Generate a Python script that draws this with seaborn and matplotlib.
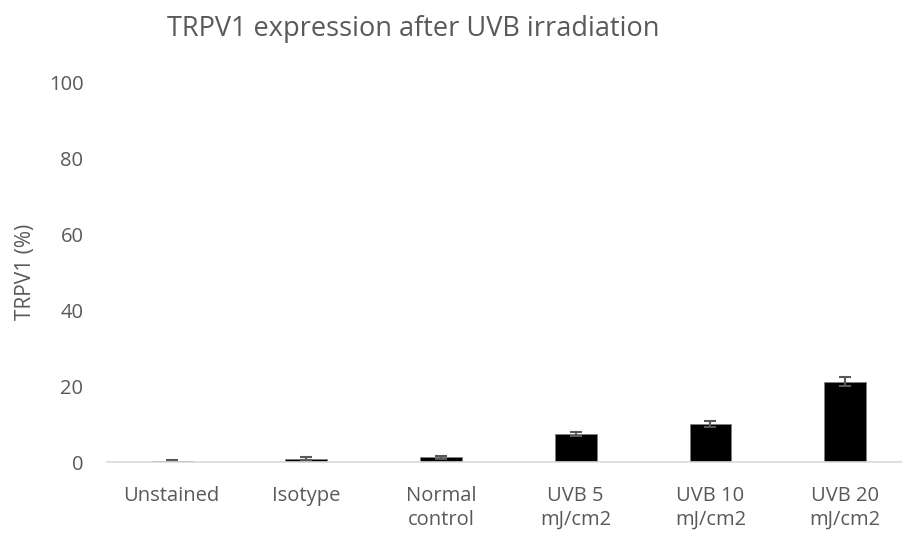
import matplotlib
matplotlib.use("Agg")
import matplotlib.pyplot as plt
import seaborn as sns
import pandas as pd

categories = ["Unstained", "Isotype", "Normal\ncontrol", "UVB 5\nmJ/cm2", "UVB 10\nmJ/cm2", "UVB 20\nmJ/cm2"]
values = [0.3, 0.9, 1.2, 7.3, 10.0, 21.1]
errors = [0.1, 0.3, 0.5, 0.5, 0.7, 1.2]

sns.set_style("white")
plt.rcParams['font.family'] = ['Open Sans', 'DejaVu Sans']
text_col = "#595959"

df = pd.DataFrame({"cat": categories, "val": values})

fig = plt.figure(figsize=(9.03, 5.34), dpi=100)
ax = fig.add_axes([107 / 903, (534 - 462) / 534, 1 - 107 / 903, (462 - 82) / 534])

sns.barplot(data=df, x="cat", y="val", color="black", width=0.31,
            errorbar=None, saturation=1, edgecolor="#7f7f7f", linewidth=0.6, ax=ax)
ax.errorbar(range(len(values)), values, yerr=errors, fmt="none",
            ecolor=text_col, elinewidth=1.5, capsize=4, capthick=1.5)

ax.set_ylim(0, 100)
ax.set_xlim(-0.48, 5.43)
ax.set_yticks([0, 20, 40, 60, 80, 100])
ax.set_xlabel("")
ax.set_ylabel("TRPV1 (%)", fontsize=15, color=text_col, labelpad=9)
ax.tick_params(axis="y", length=0, pad=17, labelsize=14.5, labelcolor=text_col)
ax.tick_params(axis="x", length=0, pad=17, labelsize=14.5, labelcolor=text_col)
for lab in ax.get_xticklabels():
    lab.set_linespacing(1.3)
for s in ["top", "right", "left"]:
    ax.spines[s].set_visible(False)
ax.spines["bottom"].set_color("#D9D9D9")
ax.spines["bottom"].set_linewidth(1.2)

fig.text(413 / 903, 1 - 29 / 534, "TRPV1 expression after UVB irradiation",
         ha="center", va="center", fontsize=19.5, color=text_col)

fig.savefig("out.png", dpi=100)
